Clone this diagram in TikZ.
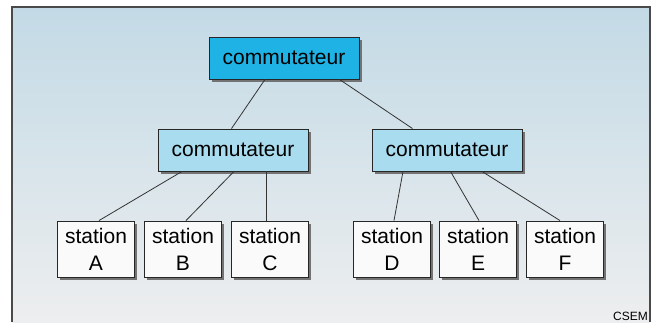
\documentclass[tikz,border=0pt]{standalone}
\usepackage{fontspec}
\setmainfont{Liberation Sans}
\usetikzlibrary{shadows}
\definecolor{topblue}{HTML}{1FB2E4}
\definecolor{midblue}{HTML}{A9DCEF}
\definecolor{skytop}{HTML}{C3DAE6}
\definecolor{skybot}{HTML}{EDEEEF}
\definecolor{framegray}{HTML}{4A4A4A}
\tikzset{
  box/.style={draw=black!85, line width=0.9pt, inner sep=0pt,
    font=\fontsize{21}{27}\selectfont,
    drop shadow={shadow xshift=2.5pt, shadow yshift=-2.5pt, fill=black!55, opacity=1}},
  commbox/.style={box, minimum width=150pt, minimum height=42pt},
  stationbox/.style={box, fill=white!96!gray, minimum width=77pt, minimum height=56pt, align=center},
  link/.style={line width=0.8pt, draw=black!80}
}

\begin{document}
\begin{tikzpicture}[x=1pt, y=-1pt]
	\useasboundingbox (0,0) rectangle (656,322);
	% background and frame
	\shade[top color=skytop, bottom color=skybot] (12,7) rectangle (650,322);
	\draw[framegray, line width=1.4pt] (12,322) -- (12,7) -- (650,7) -- (650,322);
	
	% switches
	\node[commbox, fill=topblue] (top) at (284,58) {commutateur};
	\node[commbox, fill=midblue] (left) at (233,150) {commutateur};
	\node[commbox, fill=midblue] (right) at (447,150) {commutateur};
	
	% stations
	\node[stationbox] (stA) at (96,249) {station\\A};
	\node[stationbox] (stB) at (183,249) {station\\B};
	\node[stationbox] (stC) at (270,249) {station\\C};
	\node[stationbox] (stD) at (392,249) {station\\D};
	\node[stationbox] (stE) at (478,249) {station\\E};
	\node[stationbox] (stF) at (565,249) {station\\F};
	
	% links
	\draw[link] ([xshift=-19pt]top.south) -- ([xshift=-1.5pt]left.north);
	\draw[link] ([xshift=55.5pt]top.south) -- ([xshift=-34.5pt]right.north);
	\draw[link] ([xshift=-51pt]left.south) -- ([xshift=3pt]stA.north);
	\draw[link] ([xshift=1pt]left.south) -- ([xshift=3pt]stB.north);
	\draw[link] ([xshift=33pt]left.south) -- ([xshift=-4pt]stC.north);
	\draw[link] ([xshift=-44pt]right.south) -- ([xshift=2pt]stD.north);
	\draw[link] ([xshift=3.5pt]right.south) -- ([xshift=1pt]stE.north);
	\draw[link] ([xshift=35pt]right.south) -- ([xshift=-5pt]stF.north);
	
	\node[anchor=south east, inner sep=0pt, font=\fontsize{12}{12}\selectfont] (csem) at (648,321) {CSEM};
\end{tikzpicture}
\end{document}
